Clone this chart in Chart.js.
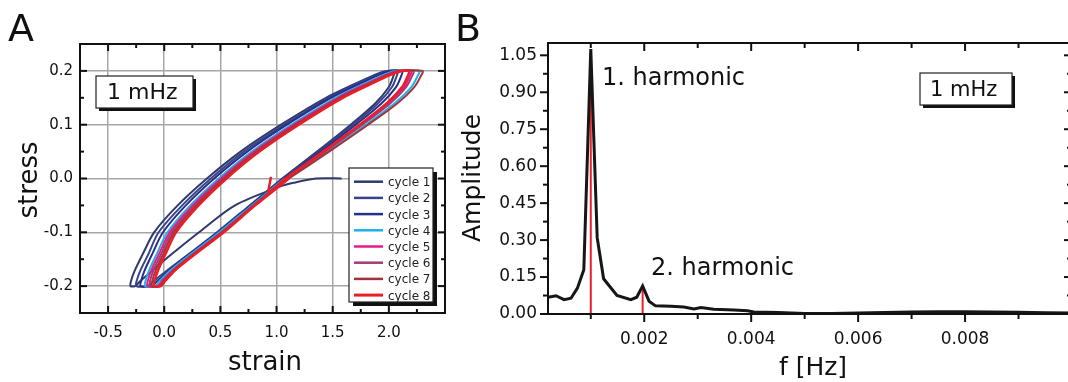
<!DOCTYPE html>
<html>
<head>
<meta charset="utf-8">
<script src="https://cdn.jsdelivr.net/npm/chart.js@4.4.1/dist/chart.umd.min.js"></script>
<style>
html, body { margin: 0; padding: 0; background: #fff; overflow: hidden; width: 1068px; height: 382px; }
#panelA { position: absolute; left: 0; top: 0; }
#panelB { position: absolute; left: 450px; top: 0; }
</style>
</head>
<body>
<canvas id="panelA" width="450" height="382"></canvas>
<canvas id="panelB" width="622" height="382"></canvas>
<script>
// ---- Panel A: stress / strain loops ----
const cycleNames = ['cycle 1', 'cycle 2', 'cycle 3', 'cycle 4', 'cycle 5', 'cycle 6', 'cycle 7', 'cycle 8'];
const cycleColors = ['#2f3a6c', '#3a4387', '#272f8e', '#1db2e8', '#ea1a8d', '#a33b74', '#a3333b', '#ec1d25'];
const cycleWidths = [2, 2, 2, 2, 2, 2, 2, 2.5];

// camino de tension para los ciclos 2-7: baja desde 0, punta inferior, sube, punta superior, vuelve a 0
const loopStress = [0, -0.05, -0.1, -0.14, -0.17, -0.19, -0.2,
    -0.2, -0.19, -0.17, -0.14, -0.1, -0.05, 0, 0.05, 0.1, 0.15, 0.18, 0.195, 0.2,
    0.2, 0.19, 0.17, 0.14, 0.1, 0.05, 0];

const c1Stress = [0, 0, -0.008, -0.015, -0.05, -0.1, -0.14, -0.17, -0.19, -0.2,
    -0.2, -0.19, -0.17, -0.14, -0.1, -0.05, 0, 0.05, 0.1, 0.15, 0.18, 0.195, 0.2,
    0.2, 0.19, 0.17, 0.14, 0.1, 0.05, 0];
const c1Strain = [1.58, 1.35, 1.15, 1.03, 0.63, 0.31, 0.07, -0.10, -0.21, -0.26,
    -0.30, -0.295, -0.26, -0.19, -0.09, 0.12, 0.38, 0.68, 1.04, 1.44, 1.74, 1.90, 1.98,
    2.05, 2.04, 2.00, 1.88, 1.66, 1.36, 1.05];
const c2Strain = [1.05, 0.76, 0.47, 0.22, 0.03, -0.09, -0.15,
    -0.25, -0.245, -0.21, -0.14, -0.05, 0.16, 0.415, 0.71, 1.07, 1.465, 1.76, 1.92, 2.00,
    2.08, 2.069, 2.028, 1.904, 1.68, 1.375, 1.06];
const c3Strain = [1.06, 0.77, 0.48, 0.23, 0.05, -0.06, -0.11,
    -0.21, -0.205, -0.173, -0.106, -0.011, 0.192, 0.445, 0.739, 1.092, 1.486, 1.783, 1.941, 2.02,
    2.12, 2.109, 2.064, 1.936, 1.705, 1.393, 1.07];
const c4Strain = [1.07, 0.78, 0.49, 0.24, 0.06, -0.04, -0.08,
    -0.17, -0.166, -0.133, -0.066, 0.029, 0.232, 0.485, 0.779, 1.132, 1.526, 1.823, 1.981, 2.06,
    2.27, 2.255, 2.20, 2.052, 1.795, 1.453, 1.10];
const c5Strain = [1.10, 0.80, 0.51, 0.26, 0.08, -0.02, -0.06,
    -0.15, -0.146, -0.113, -0.046, 0.049, 0.252, 0.505, 0.799, 1.152, 1.546, 1.843, 2.001, 2.08,
    2.20, 2.186, 2.136, 1.996, 1.75, 1.42, 1.08];
const c6Strain = [1.08, 0.79, 0.51, 0.26, 0.08, -0.01, -0.05,
    -0.13, -0.126, -0.094, -0.027, 0.067, 0.269, 0.52, 0.813, 1.165, 1.558, 1.854, 2.011, 2.09,
    2.22, 2.206, 2.154, 2.014, 1.765, 1.433, 1.09];
const c7Strain = [1.09, 0.80, 0.52, 0.27, 0.09, 0.0, -0.04,
    -0.11, -0.106, -0.074, -0.008, 0.085, 0.286, 0.535, 0.827, 1.178, 1.569, 1.864, 2.021, 2.10,
    2.30, 2.284, 2.227, 2.077, 1.815, 1.468, 1.11];
const c8Stress = [0, -0.05, -0.1, -0.14, -0.17, -0.19, -0.2,
    -0.2, -0.19, -0.17, -0.14, -0.1, -0.05, 0, 0.05, 0.1, 0.15, 0.18, 0.195, 0.2,
    0.2, 0.19, 0.17, 0.14, 0.1, 0.05, 0, -0.025, 0.003];
const c8Strain = [1.11, 0.81, 0.53, 0.28, 0.10, 0.01, -0.03,
    -0.09, -0.086, -0.054, 0.012, 0.105, 0.306, 0.555, 0.847, 1.198, 1.589, 1.884, 2.041, 2.12,
    2.18, 2.167, 2.118, 1.982, 1.74, 1.415, 1.08, 0.935, 0.95];

const strainTicks = [-0.5, 0, 0.5, 1, 1.5, 2];
const strainMinor = [-0.75, -0.25, 0.25, 0.75, 1.25, 1.75, 2.25];
const stressTicks = [-0.2, -0.1, 0, 0.1, 0.2];
const stressMinor = [-0.25, -0.15, -0.05, 0.05, 0.15, 0.25];

// ---- Panel B: amplitude spectrum ----
const freqHz = [0.0002, 0.00035, 0.0005, 0.00063, 0.00075, 0.00087, 0.001, 0.00112, 0.00124, 0.00149, 0.00175, 0.00186, 0.00197, 0.00209, 0.00221, 0.0025, 0.00274, 0.00293, 0.00306, 0.0033, 0.00368, 0.00393, 0.00405, 0.0045, 0.005, 0.0055, 0.006, 0.0065, 0.007, 0.0075, 0.008, 0.0085, 0.009, 0.0095, 0.01];
const amplitude = [0.068, 0.074, 0.058, 0.064, 0.105, 0.18, 1.075, 0.31, 0.143, 0.075, 0.058, 0.068, 0.114, 0.052, 0.033, 0.031, 0.028, 0.02, 0.026, 0.019, 0.016, 0.013, 0.008, 0.006, 0.002, 0.002, 0.004, 0.006, 0.008, 0.009, 0.009, 0.008, 0.007, 0.005, 0.004];
const harmonicFreq = [0.001, 0.00197];
const harmonicPeak = [1.06, 0.11];

const freqTicks = [0.002, 0.004, 0.006, 0.008];
const freqMinor = [0.001, 0.003, 0.005, 0.007, 0.009];
const ampTicks = [0, 0.15, 0.30, 0.45, 0.60, 0.75, 0.90, 1.05];
const ampMinor = [0.075, 0.225, 0.375, 0.525, 0.675, 0.825, 0.975];

const FONT = "'DejaVu Sans', 'Liberation Sans', Arial, sans-serif";

function toPoints(xs, ys) {
    return xs.map((x, i) => ({ x: x, y: ys[i] }));
}

// marco y marcas de eje dibujadas con las escalas del grafico
function marcoPlugin(cfg) {
    return {
        id: 'marco',
        afterDatasetsDraw(chart) {
            const ctx = chart.ctx;
            const a = chart.chartArea;
            const sx = chart.scales.x, sy = chart.scales.y;
            ctx.save();
            ctx.strokeStyle = '#111';
            ctx.lineWidth = 2;
            ctx.strokeRect(a.left, a.top, a.right - a.left, a.bottom - a.top);
            const mark = (vals, len, scale, side) => {
                vals.forEach(v => {
                    const p = scale.getPixelForValue(v);
                    const d = cfg[side] * len;
                    ctx.beginPath();
                    if (side === 'bottom') { ctx.moveTo(p, a.bottom); ctx.lineTo(p, a.bottom - d); }
                    if (side === 'top') { ctx.moveTo(p, a.top); ctx.lineTo(p, a.top + d); }
                    if (side === 'left') { ctx.moveTo(a.left, p); ctx.lineTo(a.left + d, p); }
                    if (side === 'right') { ctx.moveTo(a.right, p); ctx.lineTo(a.right - d, p); }
                    ctx.stroke();
                });
            };
            ['bottom', 'top'].forEach(s => { mark(cfg.xMajor, cfg.majorLen, sx, s); mark(cfg.xMinor, cfg.minorLen, sx, s); });
            ['left', 'right'].forEach(s => { mark(cfg.yMajor, cfg.majorLen, sy, s); mark(cfg.yMinor, cfg.minorLen, sy, s); });
            ctx.restore();
        }
    };
}

function cajaTexto(ctx, x, y, w, h, shadow, text, size, tx, ty) {
    ctx.fillStyle = '#111';
    ctx.fillRect(x + shadow, y + shadow, w, h);
    ctx.fillStyle = '#fff';
    ctx.fillRect(x, y, w, h);
    ctx.strokeStyle = '#222';
    ctx.lineWidth = 1.2;
    ctx.strokeRect(x, y, w, h);
    if (text) {
        ctx.fillStyle = '#111';
        ctx.font = size + 'px ' + FONT;
        ctx.textAlign = 'left';
        ctx.textBaseline = 'alphabetic';
        ctx.fillText(text, tx, ty);
    }
}

const textosA = {
    id: 'textosA',
    afterDraw(chart) {
        const ctx = chart.ctx;
        ctx.save();
        ctx.fillStyle = '#111';
        ctx.textBaseline = 'alphabetic';
        ctx.font = '38px ' + FONT;
        ctx.textAlign = 'left';
        ctx.fillText('A', 8, 41);
        ctx.font = '26px ' + FONT;
        ctx.textAlign = 'center';
        ctx.fillText('strain', 265, 370);
        ctx.save();
        ctx.translate(37, 180);
        ctx.rotate(-Math.PI / 2);
        ctx.fillText('stress', 0, 0);
        ctx.restore();

        cajaTexto(ctx, 96, 76, 97, 32, 3, '1 mHz', 22, 107, 99);

        // leyenda
        cajaTexto(ctx, 349, 168, 84, 134, 4, null);
        ctx.font = '12px ' + FONT;
        ctx.textAlign = 'left';
        cycleNames.forEach((name, i) => {
            const yc = 181.7 + i * 16.2;
            ctx.strokeStyle = cycleColors[i];
            ctx.lineWidth = cycleWidths[i] + 0.5;
            ctx.beginPath();
            ctx.moveTo(354, yc);
            ctx.lineTo(383, yc);
            ctx.stroke();
            ctx.fillStyle = '#222';
            ctx.fillText(name, 388, yc + 4.5);
        });
        ctx.restore();
    }
};

const textosB = {
    id: 'textosB',
    afterDraw(chart) {
        const ctx = chart.ctx;
        ctx.save();
        ctx.fillStyle = '#111';
        ctx.textBaseline = 'alphabetic';
        ctx.font = '38px ' + FONT;
        ctx.textAlign = 'left';
        ctx.fillText('B', 5, 41);
        ctx.font = '25px ' + FONT;
        ctx.textAlign = 'center';
        ctx.fillText('f [Hz]', 363, 375);
        ctx.save();
        ctx.translate(30, 178);
        ctx.rotate(-Math.PI / 2);
        ctx.fillText('Amplitude', 0, 0);
        ctx.restore();
        ctx.font = '24px ' + FONT;
        ctx.textAlign = 'left';
        ctx.fillText('1. harmonic', 152, 85);
        ctx.fillText('2. harmonic', 201, 275);
        cajaTexto(ctx, 470, 73, 92, 32, 3, '1 mHz', 21, 480, 96);
        ctx.restore();
    }
};

function ejeLineal(min, max, ticks, decimals, fit, padding, size, grid) {
    return {
        type: 'linear',
        min: min,
        max: max,
        afterBuildTicks: s => { s.ticks = ticks.map(v => ({ value: v })); },
        afterFit: fit,
        grid: grid ? { color: '#a6a6a6', lineWidth: 1.5, drawTicks: false } : { display: false, drawTicks: false },
        border: { display: false },
        ticks: {
            padding: padding,
            color: '#111',
            autoSkip: false,
            maxRotation: 0,
            font: { family: FONT, size: size },
            callback: v => Number(v).toFixed(decimals)
        }
    };
}

const strainSets = [c1Strain, c2Strain, c3Strain, c4Strain, c5Strain, c6Strain, c7Strain, c8Strain];
const stressSets = [c1Stress, loopStress, loopStress, loopStress, loopStress, loopStress, loopStress, c8Stress];

new Chart(document.getElementById('panelA').getContext('2d'), {
    type: 'scatter',
    data: {
        datasets: cycleNames.map((name, i) => ({
            label: name,
            data: toPoints(strainSets[i], stressSets[i]),
            showLine: true,
            borderColor: cycleColors[i],
            borderWidth: cycleWidths[i],
            pointRadius: 0,
            tension: 0.3,
            fill: false,
            order: 8 - i
        }))
    },
    options: {
        responsive: false,
        animation: false,
        layout: { padding: { top: 44, right: 5, left: 0, bottom: 0 } },
        plugins: { legend: { display: false }, tooltip: { enabled: false } },
        scales: {
            x: ejeLineal(-0.75, 2.5, strainTicks, 1, s => { s.height = 69; }, 11, 15, true),
            y: ejeLineal(-0.25, 0.25, stressTicks, 1, s => { s.width = 80; }, 7, 15, true)
        }
    },
    plugins: [marcoPlugin({ xMajor: strainTicks, xMinor: strainMinor, yMajor: stressTicks, yMinor: stressMinor,
        bottom: 1, top: 1, left: 1, right: 1, majorLen: 7, minorLen: 4 }), textosA]
});

new Chart(document.getElementById('panelB').getContext('2d'), {
    type: 'scatter',
    data: {
        datasets: [
            {
                label: 'Amplitude',
                data: toPoints(freqHz, amplitude),
                showLine: true,
                borderColor: '#161616',
                borderWidth: 3,
                pointRadius: 0,
                tension: 0,
                order: 1
            },
            {
                label: '1. harmonic',
                data: toPoints([harmonicFreq[0], harmonicFreq[0]], [0, harmonicPeak[0]]),
                showLine: true,
                borderColor: '#e8202a',
                borderWidth: 2,
                pointRadius: 0,
                order: 2
            },
            {
                label: '2. harmonic',
                data: toPoints([harmonicFreq[1], harmonicFreq[1]], [0, harmonicPeak[1]]),
                showLine: true,
                borderColor: '#e8202a',
                borderWidth: 2,
                pointRadius: 0,
                order: 3
            }
        ]
    },
    options: {
        responsive: false,
        animation: false,
        layout: { padding: { top: 43, right: 0, left: 0, bottom: 0 } },
        plugins: { legend: { display: false }, tooltip: { enabled: false } },
        scales: {
            x: ejeLineal(0.0002, 0.01, freqTicks, 3, s => { s.height = 68; }, 15, 17, false),
            y: ejeLineal(0, 1.1, ampTicks, 2, s => { s.width = 98; }, 11, 17, false)
        }
    },
    plugins: [marcoPlugin({ xMajor: freqTicks, xMinor: freqMinor, yMajor: ampTicks, yMinor: ampMinor,
        bottom: -1, top: 1, left: -1, right: 1, majorLen: 8, minorLen: 5 }), textosB]
});
</script>
</body>
</html>
